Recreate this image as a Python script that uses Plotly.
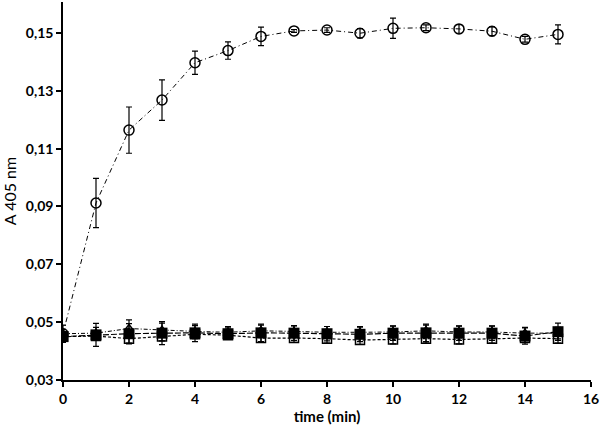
import plotly.graph_objects as go

TEXT = "#000000"
FONT = "Lato, sans-serif"

time_min = list(range(0, 16))

# open circles (enzyme active)
circle_y = [0.0460, 0.0912, 0.1164, 0.1268, 0.1397, 0.1439, 0.1488, 0.1507,
            0.1510, 0.1499, 0.1516, 0.1518, 0.1514, 0.1506, 0.1478, 0.1495]
circle_err = [0.0030, 0.0085, 0.0080, 0.0070, 0.0040, 0.0030, 0.0032, 0.0005,
              0.0008, 0.0016, 0.0035, 0.0010, 0.0015, 0.0015, 0.0010, 0.0033]

# filled squares
fsq_y = [0.0450, 0.0456, 0.0460, 0.0462, 0.0463, 0.0460, 0.0463, 0.0462,
         0.0460, 0.0458, 0.0462, 0.0463, 0.0462, 0.0462, 0.0452, 0.0467]
fsq_err = [0.0015, 0.0040, 0.0035, 0.0040, 0.0030, 0.0020, 0.0030, 0.0025,
           0.0025, 0.0025, 0.0025, 0.0030, 0.0025, 0.0025, 0.0028, 0.0030]

# open squares
osq_y = [0.0450, 0.0452, 0.0443, 0.0450, 0.0458, 0.0455, 0.0445, 0.0445,
         0.0443, 0.0438, 0.0440, 0.0443, 0.0440, 0.0443, 0.0445, 0.0443]
osq_err = [0.0010, 0.0015, 0.0015, 0.0015, 0.0015, 0.0015, 0.0015, 0.0015,
           0.0015, 0.0015, 0.0015, 0.0015, 0.0015, 0.0015, 0.0015, 0.0015]

# open triangles
tri_y = [0.0460, 0.0462, 0.0478, 0.0472, 0.0468, 0.0465, 0.0470, 0.0468,
         0.0465, 0.0465, 0.0466, 0.0470, 0.0466, 0.0466, 0.0462, 0.0462]
tri_err = [0.0015, 0.0020, 0.0030, 0.0025, 0.0020, 0.0020, 0.0020, 0.0020,
           0.0020, 0.0020, 0.0020, 0.0020, 0.0020, 0.0020, 0.0020, 0.0020]

y_ticks = [0.03, 0.05, 0.07, 0.09, 0.11, 0.13, 0.15]
x_ticks = list(range(0, 17, 2))


def err(vals):
    return dict(type="data", array=vals, visible=True, color=TEXT,
                thickness=1.2, width=3)


fig = go.Figure()
fig.add_trace(go.Scatter(
    x=time_min, y=osq_y, mode="lines+markers", name="open square",
    line=dict(color=TEXT, width=1.2, dash="3px,2px"),
    marker=dict(symbol="square-open", size=9, color=TEXT, line=dict(width=1.5)),
    error_y=err(osq_err),
))
fig.add_trace(go.Scatter(
    x=time_min, y=tri_y, mode="lines+markers", name="triangle",
    line=dict(color=TEXT, width=1, dash="4px,2px,1px,2px"),
    marker=dict(symbol="triangle-up-open", size=8, color=TEXT, line=dict(width=1.5)),
    error_y=err(tri_err),
))
fig.add_trace(go.Scatter(
    x=time_min, y=fsq_y, mode="lines+markers", name="filled square",
    line=dict(color=TEXT, width=1.2, dash="6px,2px"),
    marker=dict(symbol="square", size=11, color=TEXT),
    error_y=err(fsq_err),
))
fig.add_trace(go.Scatter(
    x=time_min, y=circle_y, mode="lines+markers", name="circle",
    line=dict(color=TEXT, width=1, dash="5px,3px,1px,3px"),
    marker=dict(symbol="circle-open", size=10, color=TEXT, line=dict(width=1.5)),
    error_y=err(circle_err),
))

fig.update_layout(
    width=600, height=430,
    paper_bgcolor="white", plot_bgcolor="white",
    font=dict(family=FONT, color=TEXT, size=13),
    separators=",.",
    showlegend=False,
    margin=dict(l=63, r=9, t=2, b=50),
)
fig.update_xaxes(
    range=[0, 16], tickvals=x_ticks, showgrid=False, zeroline=False,
    automargin=False,
    showline=True, linecolor=TEXT, linewidth=1.5,
    ticks="outside", ticklen=5, tickwidth=1.5, tickcolor=TEXT,
    tickfont=dict(size=14, family=FONT, color=TEXT, weight="bold"),
    title=dict(text="<b>time (min)</b>", font=dict(size=15, color=TEXT), standoff=2),
)
fig.update_yaxes(
    range=[0.03, 0.1607], tickvals=y_ticks, tickformat=".2f",
    showgrid=False, zeroline=False, automargin=False,
    showline=True, linecolor=TEXT, linewidth=1.5,
    ticks="outside", ticklen=5, tickwidth=1.5, tickcolor=TEXT,
    tickfont=dict(size=14, family=FONT, color=TEXT, weight="bold"),
    title=dict(text="A 405 nm", font=dict(size=16, color=TEXT), standoff=6),
)

# page body has a default 8px margin; drop it so the figure sits at the corner
fig.write_html("out.html", config={"displayModeBar": False},
               post_script="document.body.style.margin='0';")
